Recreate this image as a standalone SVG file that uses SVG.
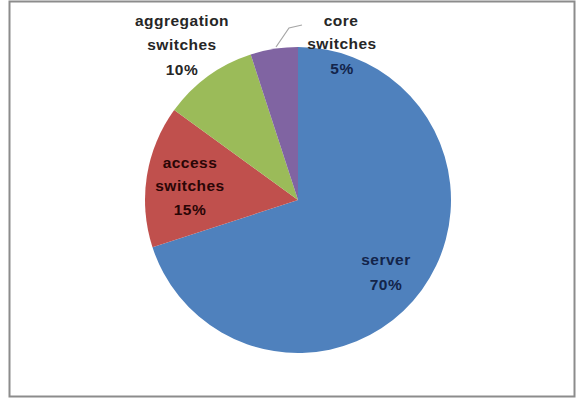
<svg xmlns="http://www.w3.org/2000/svg" width="577" height="400" viewBox="0 0 577 400">
<style>
.lbl{font-family:"Liberation Sans",Arial,sans-serif;font-weight:bold;font-size:15.5px;letter-spacing:0.5px;text-anchor:middle}
.out{fill:#262626}
.acc{fill:#2a0606}
.srv{fill:#13244a}
.core5{fill:#13244a}
</style>
<rect x="0" y="0" width="577" height="400" fill="#ffffff"/>
<rect x="9.5" y="1.5" width="565" height="395" fill="#ffffff" stroke="#8c8c8c" stroke-width="2"/>
<g id="pie">
<g id="server"><path d="M298,200 L298,47 A153,153 0 1 1 152.5,247.3 Z" fill="#4F81BD"/></g>
<g id="access"><path d="M298,200 L152.5,247.3 A153,153 0 0 1 174.2,110.1 Z" fill="#C0504D"/></g>
<g id="aggregation"><path d="M298,200 L174.2,110.1 A153,153 0 0 1 250.7,54.5 Z" fill="#9BBB59"/></g>
<g id="core"><path d="M298,200 L250.7,54.5 A153,153 0 0 1 298,47 Z" fill="#8064A2"/></g>
</g>
<g id="connectors">
<polyline points="276,47 289,28 302,25" fill="none" stroke="#a6a6a6" stroke-width="1.2"/>
</g>
<g id="labels">
<text class="lbl out" x="182" y="26">aggregation</text>
<text class="lbl out" x="182" y="50">switches</text>
<text class="lbl out" x="182" y="75">10%</text>
<text class="lbl out" x="341" y="26">core</text>
<text class="lbl out" x="342" y="49">switches</text>
<text class="lbl core5" x="342" y="74">5%</text>
<text class="lbl acc" x="190" y="168">access</text>
<text class="lbl acc" x="190" y="191">switches</text>
<text class="lbl acc" x="190" y="215">15%</text>
<text class="lbl srv" x="386" y="265">server</text>
<text class="lbl srv" x="386" y="290">70%</text>
</g>
</svg>
